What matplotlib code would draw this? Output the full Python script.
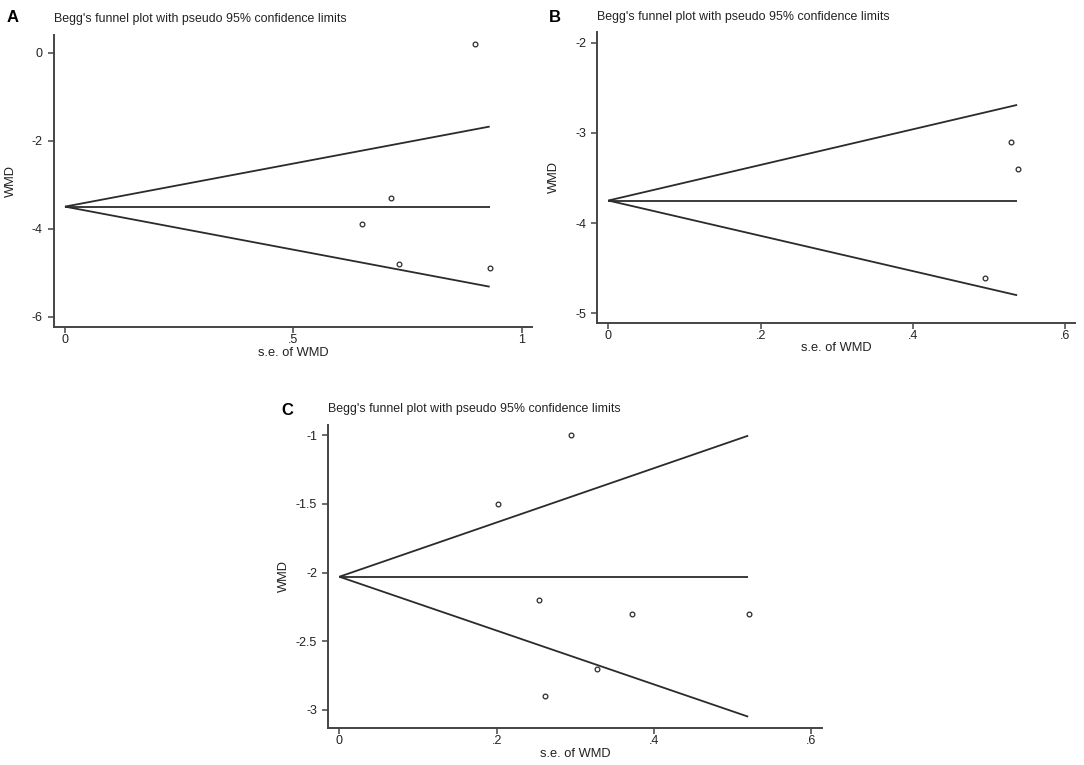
import matplotlib
matplotlib.use('Agg')
import matplotlib.pyplot as plt

# Fonts: Stata-like Arial look
plt.rcParams['font.family'] = ['Liberation Sans', 'DejaVu Sans']
plt.rcParams['axes.unicode_minus'] = False

# Panel A data (s.e. of WMD, WMD)
a_se = [0.651, 0.714, 0.731, 0.898, 0.931]
a_wmd = [-3.89, -3.31, -4.80, 0.19, -4.90]
a_pooled = -3.5
a_funnel_se = [0, 0.93]
a_upper = [-3.5, -1.68]
a_lower = [-3.5, -5.32]

# Panel B data
b_se = [0.495, 0.529, 0.538]
b_wmd = [-4.605, -3.098, -3.397]
b_pooled = -3.75
b_funnel_se = [0, 0.537]
b_upper = [-3.75, -2.69]
b_lower = [-3.75, -4.80]

# Panel C data
c_se = [0.202, 0.254, 0.261, 0.294, 0.328, 0.372, 0.521]
c_wmd = [-1.50, -2.20, -2.90, -1.00, -2.70, -2.30, -2.30]
c_pooled = -2.03
c_funnel_se = [0, 0.520]
c_upper = [-2.03, -1.003]
c_lower = [-2.03, -3.049]

# Tick labels
a_xticks = [0, 0.5, 1]
a_xticklabels = ['0', '.5', '1']
a_yticks = [0, -2, -4, -6]
a_yticklabels = ['0', '-2', '-4', '-6']

bc_xticks = [0, 0.2, 0.4, 0.6]
bc_xticklabels = ['0', '.2', '.4', '.6']
b_yticks = [-2, -3, -4, -5]
b_yticklabels = ['-2', '-3', '-4', '-5']
c_yticks = [-1, -1.5, -2, -2.5, -3]
c_yticklabels = ['-1', '-1.5', '-2', '-2.5', '-3']

TITLE = "Begg's funnel plot with pseudo 95% confidence limits"
LINE_COLOR = '#2b2b2b'
SPINE_COLOR = '#444444'


def funnel_panel(fig, rect, se, wmd, pooled, funnel_se, upper, lower,
                 xlim, ylim, xticks, xticklabels, yticks, yticklabels):
    ax = fig.add_axes(rect)

    # Pseudo 95% limits and pooled estimate
    ax.plot(funnel_se, upper, color=LINE_COLOR, lw=1.3, solid_capstyle='butt')
    ax.plot(funnel_se, lower, color=LINE_COLOR, lw=1.3, solid_capstyle='butt')
    ax.plot(funnel_se, [pooled, pooled], color=LINE_COLOR, lw=1.3, solid_capstyle='butt')

    # Studies
    ax.plot(se, wmd, linestyle='none', marker='o', markersize=3.4,
            markerfacecolor='white', markeredgecolor=LINE_COLOR, markeredgewidth=0.9)

    ax.set_xlim(xlim)
    ax.set_ylim(ylim)
    ax.set_xticks(xticks)
    ax.set_xticklabels(xticklabels)
    ax.set_yticks(yticks)
    ax.set_yticklabels(yticklabels)

    for side in ['top', 'right']:
        ax.spines[side].set_visible(False)
    for side in ['left', 'bottom']:
        ax.spines[side].set_color(SPINE_COLOR)
        ax.spines[side].set_linewidth(1.4)

    ax.tick_params(axis='both', direction='out', length=4, width=1.1,
                   color=SPINE_COLOR, labelsize=9, labelcolor='#222222')
    ax.tick_params(axis='y', pad=4)
    ax.tick_params(axis='x', pad=1.5)

    ax.set_xlabel('s.e. of WMD', fontsize=9.3, color='#222222')
    ax.set_ylabel('WMD', fontsize=9.3, color='#222222')
    ax.xaxis.set_label_coords(0.5, -0.068)
    ax.yaxis.set_label_coords(-0.078, 0.5)

    ax.text(0, 1.054, TITLE, transform=ax.transAxes, ha='left', va='center',
            fontsize=8.9, color='#222222')
    return ax


fig = plt.figure(figsize=(10.84, 7.65), dpi=100)

funnel_panel(fig, [0.0498, 0.5729, 0.4407, 0.3813], a_se, a_wmd, a_pooled,
             a_funnel_se, a_upper, a_lower, (-0.024, 1.022), (-6.23, 0.40),
             a_xticks, a_xticklabels, a_yticks, a_yticklabels)

funnel_panel(fig, [0.5510, 0.5782, 0.4407, 0.3796], b_se, b_wmd, b_pooled,
             b_funnel_se, b_upper, b_lower, (-0.0145, 0.613), (-5.104, -1.885),
             bc_xticks, bc_xticklabels, b_yticks, b_yticklabels)

funnel_panel(fig, [0.3029, 0.0488, 0.4555, 0.3957], c_se, c_wmd, c_pooled,
             c_funnel_se, c_upper, c_lower, (-0.014, 0.614), (-3.129, -0.925),
             bc_xticks, bc_xticklabels, c_yticks, c_yticklabels)

# Panel letters
fig.text(13 / 1084, 1 - 18 / 765, 'A', fontsize=12, fontweight='bold', ha='center', va='center')
fig.text(554.7 / 1084, 1 - 17.5 / 765, 'B', fontsize=12, fontweight='bold', ha='center', va='center')
fig.text(287.5 / 1084, 1 - 410.5 / 765, 'C', fontsize=12, fontweight='bold', ha='center', va='center')

fig.savefig('out.png', dpi=100, facecolor='white')
